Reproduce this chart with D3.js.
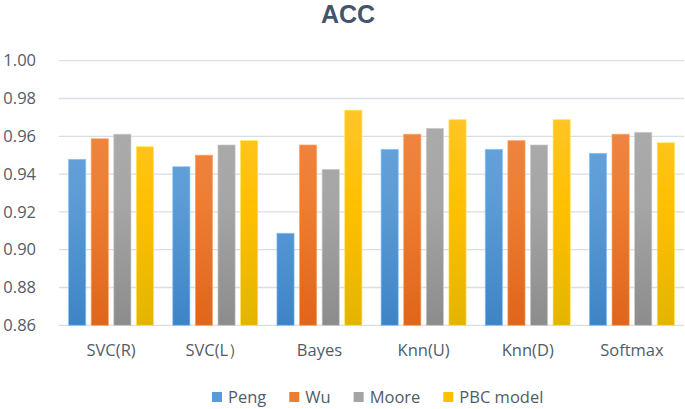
<!DOCTYPE html>
<html><head><meta charset="utf-8">
<script src="https://cdn.jsdelivr.net/npm/d3@7"></script>
<style>body{margin:0;background:#fff}svg{display:block}</style>
</head><body>
<svg id="c" width="685" height="409"></svg>
<script>
const categories = ["SVC(R)", "SVC(L）", "Bayes", "Knn(U)", "Knn(D)", "Softmax"];
const seriesNames = ["Peng", "Wu", "Moore", "PBC model"];
const peng  = [0.9478, 0.9439, 0.9087, 0.9531, 0.9531, 0.9510];
const wu    = [0.9587, 0.9500, 0.9554, 0.9611, 0.9577, 0.9611];
const moore = [0.9611, 0.9554, 0.9425, 0.9642, 0.9554, 0.9621];
const pbc   = [0.9545, 0.9577, 0.9738, 0.9688, 0.9688, 0.9566];
const yTicks = [0.86, 0.88, 0.90, 0.92, 0.94, 0.96, 0.98, 1.00];
const baseColors = ["#5B9BD5", "#ED7D31", "#A5A5A5", "#FFC000"];
const topColors  = ["#72a8de", "#f08c50", "#b0b0b0", "#ffc83f"];
const botColors  = ["#3d84c6", "#df651b", "#8c8c8c", "#e3b500"];
const series = [peng, wu, moore, pbc];

const svg = d3.select("#c");
const font = "'Open Sans', sans-serif";
const textColor = "#525c69";
const fs = 16.5;
const pLeft = 59, pRight = 684, pTop = 60.7, pBottom = 325.3;

const x0 = d3.scaleBand().domain(categories).range([pLeft, pRight]).paddingInner(0.184).paddingOuter(0.092);
const x1 = d3.scaleBand().domain(seriesNames).range([0, x0.bandwidth()]).paddingInner(0.24);
const y = d3.scaleLinear().domain([0.86, 1.00]).range([pBottom, pTop]);

const defs = svg.append("defs");
seriesNames.forEach((s, i) => {
  const g = defs.append("linearGradient").attr("id", "g" + i)
    .attr("gradientUnits", "userSpaceOnUse")
    .attr("x1", 0).attr("x2", 0).attr("y1", pTop).attr("y2", pBottom);
  g.append("stop").attr("offset", "0%").attr("stop-color", topColors[i]);
  g.append("stop").attr("offset", "55%").attr("stop-color", baseColors[i]);
  g.append("stop").attr("offset", "100%").attr("stop-color", botColors[i]);
});

// gridlines
svg.append("g").selectAll("line").data(yTicks).join("line")
  .attr("x1", pLeft).attr("x2", pRight)
  .attr("y1", d => y(d)).attr("y2", d => y(d))
  .attr("stroke", "#d9dde4").attr("stroke-width", 1.3);

// y axis labels
const yAxis = d3.axisLeft(y).tickValues(yTicks).tickFormat(d3.format(".2f")).tickSize(0).tickPadding(0);
const ya = svg.append("g").attr("transform", "translate(36,0)").call(yAxis);
ya.select(".domain").remove();
ya.selectAll("text").attr("font-family", font).attr("font-size", fs).attr("fill", textColor);

// bars
const groups = svg.append("g").selectAll("g").data(categories).join("g")
  .attr("transform", d => `translate(${x0(d)},0)`);
groups.selectAll("rect").data((c, ci) => series.map((s, si) => ({ si, v: s[ci] })))
  .join("rect")
  .attr("x", d => x1(seriesNames[d.si]))
  .attr("width", x1.bandwidth())
  .attr("y", d => y(d.v))
  .attr("height", d => pBottom - y(d.v))
  .attr("fill", d => `url(#g${d.si})`)
  .attr("stroke", d => d3.color(topColors[d.si]).brighter(0.4))
  .attr("stroke-opacity", 0.8)
  .attr("stroke-width", 0.8);

// x axis labels
const xAxis = d3.axisBottom(x0).tickSize(0).tickPadding(0);
const xa = svg.append("g").attr("transform", `translate(0,${pBottom + 19})`).call(xAxis);
xa.select(".domain").remove();
xa.selectAll("text").attr("font-family", font).attr("font-size", fs).attr("fill", textColor);

// title
svg.append("text").attr("x", 348).attr("y", 23).attr("text-anchor", "middle")
  .attr("font-family", "'Liberation Sans', Arial, sans-serif").attr("font-weight", "bold").attr("font-size", 25)
  .attr("fill", "#44546A").text("ACC");

// legend
const leg = svg.append("g");
let cx = 0;
seriesNames.forEach((s, i) => {
  const it = leg.append("g").attr("transform", `translate(${cx},0)`);
  it.append("rect").attr("x", 0).attr("y", -5).attr("width", 10).attr("height", 10).attr("fill", baseColors[i]);
  const t = it.append("text").attr("x", 16).attr("y", 0).attr("dy", "0.35em")
    .attr("font-family", font).attr("font-size", fs).attr("fill", textColor).text(s);
  cx += 16 + t.node().getComputedTextLength() + 23;
});
leg.attr("transform", `translate(212,397)`);
</script>
</body></html>
